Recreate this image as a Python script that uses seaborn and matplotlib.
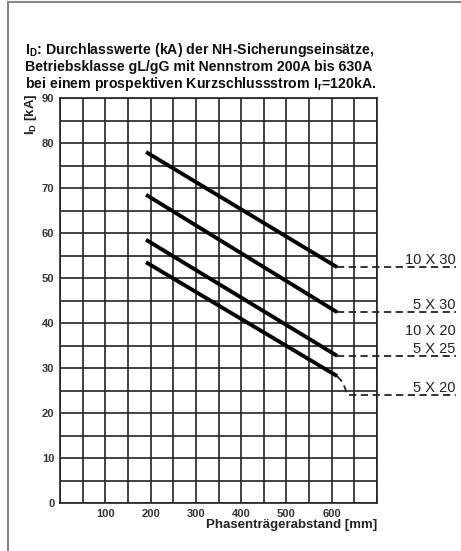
import matplotlib
matplotlib.use("Agg")
import matplotlib.pyplot as plt
import seaborn as sns
import pandas as pd
from matplotlib.lines import Line2D

sns.set_style("white")
plt.rcParams['font.family'] = ['Liberation Sans', 'DejaVu Sans']
plt.rcParams['mathtext.fontset'] = 'custom'
plt.rcParams['mathtext.rm'] = 'Liberation Sans'
plt.rcParams['mathtext.bf'] = 'Liberation Sans:bold'

# ---- data ----
series = ["10 X 30", "5 X 30", "5 X 25", "5 X 20"]
x_start = [190, 190, 190, 190]
x_end = [612, 612, 612, 612]
y_start = [78.0, 68.5, 58.5, 53.5]
y_end = [52.4, 42.4, 32.7, 28.2]

label_texts = ["10 X 30", "5 X 30", "10 X 20", "5 X 25", "5 X 20"]
label_y = [53.1, 43.1, 37.3, 33.3, 24.7]

# dashed leader for 5 X 20 (kinks down)
lead20_x = [612, 625, 635, 874]
lead20_y = [28.2, 26.7, 24.0, 24.0]

x_ticks = [100, 200, 300, 400, 500, 600]
y_ticks = [0, 10, 20, 30, 40, 50, 60, 70, 80, 90]

rows = []
for s, xs, xe, ys, ye in zip(series, x_start, x_end, y_start, y_end):
    rows.append((s, xs, ys))
    rows.append((s, xe, ye))
df = pd.DataFrame(rows, columns=["series", "x", "y"])

W, H = 461, 551
fig = plt.figure(figsize=(W / 100, H / 100), dpi=100)
ax = fig.add_axes([60 / W, 1 - 503 / H, 317 / W, 405 / H])

# grid
for gx in range(0, 701, 50):
    ax.axvline(gx, color="#222222", lw=1.2, zorder=1)
for gy in range(0, 91, 5):
    ax.axhline(gy, color="#222222", lw=1.2, zorder=1)

sns.lineplot(data=df, x="x", y="y", units="series", estimator=None,
             color="black", lw=2.8, ax=ax, legend=False, zorder=3,
             solid_capstyle="butt")

# dashed leaders
for s, xe, ye in zip(series, x_end, y_end):
    if s == "5 X 20":
        continue
    ax.plot([xe, 874], [ye, ye], color="#222222", lw=1.3, ls=(0, (4, 2.5)),
            clip_on=False, zorder=2)
ax.plot(lead20_x, lead20_y, color="#222222", lw=1.3, ls=(0, (4, 2.5)),
        clip_on=False, zorder=2)

for t, y in zip(label_texts, label_y):
    ax.text(874, y, t, ha="right", va="baseline", fontsize=10.5,
            color="#222222", clip_on=False)

ax.set_xlim(0, 700)
ax.set_ylim(0, 90)
ax.set_xticks(x_ticks)
ax.set_yticks(y_ticks)
ax.tick_params(length=0, labelsize=8, pad=4)
for lab in ax.get_xticklabels() + ax.get_yticklabels():
    lab.set_fontweight("bold")
    lab.set_color("#333333")
ax.set_xlabel("")
ax.set_ylabel("")
for sp in ax.spines.values():
    sp.set_color("#222222")
    sp.set_linewidth(1.2)

fig.text(377 / W, 1 - 525 / H, "Phasenträgerabstand [mm]", ha="right",
         va="center", fontsize=9.5, fontweight="bold", color="#222222")
fig.text(31 / W, 1 - 114 / H, r"I$_\mathbf{D}$ [kA]", rotation=90, ha="center",
         va="center", fontsize=9.5, fontweight="bold", color="#222222")

title_lines = [r"I$_\mathbf{D}$: Durchlasswerte (kA) der NH-Sicherungseinsätze,",
               "Betriebsklasse gL/gG mit Nennstrom 200A bis 630A",
               r"bei einem prospektiven Kurzschlussstrom I$_\mathbf{r}$=120kA."]
for i, t in enumerate(title_lines):
    fig.text(25 / W, 1 - (50 + 17 * i) / H, t, ha="left", va="center",
             fontsize=10.2, fontweight="bold", color="#111111")

# frame of the figure (left and top edges)
fig.add_artist(Line2D([8 / W, 8 / W], [0, 1 - 2 / H], transform=fig.transFigure,
                      color="#888888", lw=1.5))
fig.add_artist(Line2D([8 / W, 1], [1 - 2 / H, 1 - 2 / H], transform=fig.transFigure,
                      color="#888888", lw=1.5))

fig.savefig("out.png", dpi=100)
